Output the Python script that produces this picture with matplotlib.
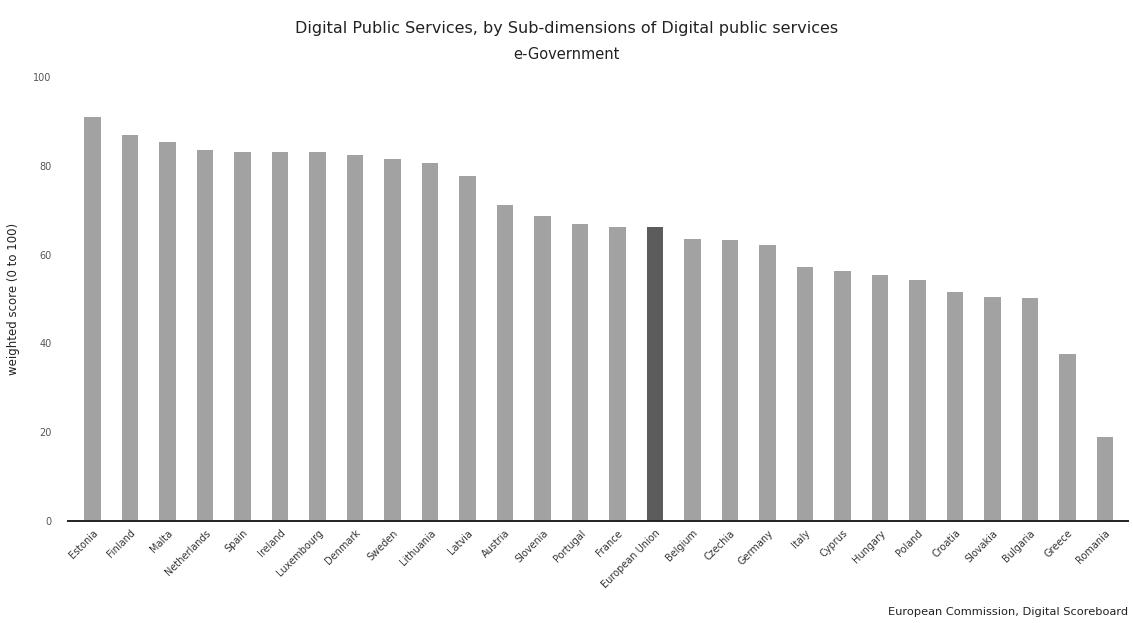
import matplotlib
matplotlib.use("Agg")
import matplotlib.pyplot as plt

countries = ["Estonia", "Finland", "Malta", "Netherlands", "Spain", "Ireland", "Luxembourg",
             "Denmark", "Sweden", "Lithuania", "Latvia", "Austria", "Slovenia", "Portugal",
             "France", "European Union", "Belgium", "Czechia", "Germany", "Italy", "Cyprus",
             "Hungary", "Poland", "Croatia", "Slovakia", "Bulgaria", "Greece", "Romania"]
scores = [91.0, 87.0, 85.3, 83.6, 83.0, 83.0, 83.0, 82.5, 81.5, 80.7, 77.8, 71.2, 68.6, 67.0,
          66.2, 66.2, 63.6, 63.2, 62.1, 57.1, 56.2, 55.5, 54.2, 51.6, 50.4, 50.2, 37.7, 19.0]
highlight = "European Union"

BAR = "#a2a2a2"
BAR_HI = "#5c5c5c"

fig = plt.figure(figsize=(11.33, 6.23), dpi=100)
ax = fig.add_axes([0.060, 0.1637, 0.9356, 0.7127])

x = list(range(len(countries)))
colors = [BAR_HI if c == highlight else BAR for c in countries]
ax.bar(x, scores, width=0.44, color=colors, zorder=2)

ax.set_ylim(0, 100)
ax.set_xlim(-0.66, len(countries) - 1 + 0.61)
ax.set_yticks([0, 20, 40, 60, 80, 100])
ax.set_xticks(x)
ax.set_xticklabels(countries, rotation=45, ha="right", rotation_mode="anchor",
                   fontsize=7, color="#333333")
ax.tick_params(axis="y", length=0, labelsize=7, labelcolor="#555555", pad=12)
ax.tick_params(axis="x", length=0, pad=5)

for s in ["top", "right", "left"]:
    ax.spines[s].set_visible(False)
ax.spines["bottom"].set_color("#222222")
ax.spines["bottom"].set_linewidth(1.4)

ax.set_ylabel("weighted score (0 to 100)", fontsize=8.5, color="#222222", labelpad=8)
ax.yaxis.set_label_coords(-0.045, 0.5)

fig.text(0.5, 0.955, "Digital Public Services, by Sub-dimensions of Digital public services",
         ha="center", va="center", fontsize=11.5, color="#222222")
fig.text(0.5, 0.913, "e-Government", ha="center", va="center", fontsize=10.5, color="#222222")
fig.text(0.996, 0.01, "European Commission, Digital Scoreboard", ha="right", va="bottom",
         fontsize=8.2, color="#222222")

fig.savefig("out.png", dpi=100)
